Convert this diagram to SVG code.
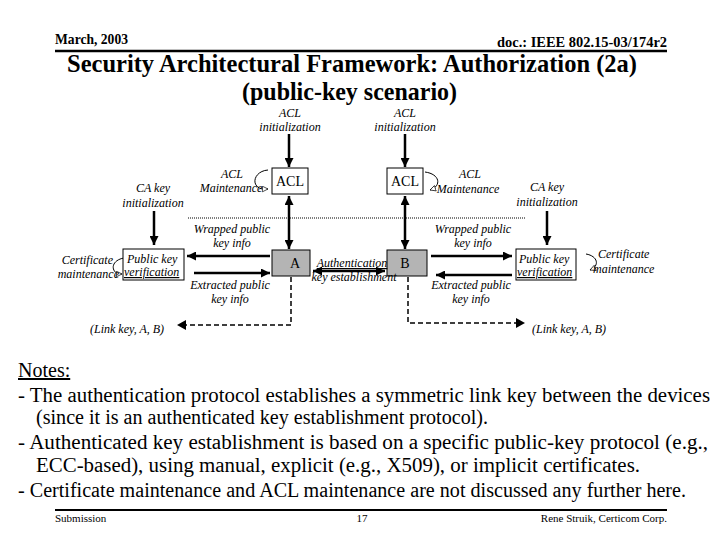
<svg xmlns="http://www.w3.org/2000/svg" width="720" height="540" viewBox="0 0 720 540">
<defs>
<marker id="ah" viewBox="0 0 10 10" refX="10" refY="5" markerWidth="9" markerHeight="9" markerUnits="userSpaceOnUse" orient="auto-start-reverse"><path d="M0,0 L10,5 L0,10 Z" fill="#000"/></marker>
<marker id="oh" viewBox="0 0 10 10" refX="9" refY="5" markerWidth="7" markerHeight="7" markerUnits="userSpaceOnUse" orient="auto"><path d="M1,1 L9,5 L1,9 Z" fill="#fff" stroke="#000" stroke-width="1"/></marker>
<style>
.hd{font-family:"Liberation Serif",serif;font-weight:bold;font-size:14px}
.tt{font-family:"Liberation Serif",serif;font-weight:bold;font-size:26px}
.lb{font-family:"Liberation Serif",serif;font-style:italic;font-size:12px}
.bx{font-family:"Liberation Serif",serif;font-size:14px}
.nt{font-family:"Liberation Serif",serif;font-size:20px}
.ft{font-family:"Liberation Serif",serif;font-size:11px}
.box{fill:#fff;stroke:#000;stroke-width:1}
.gb{fill:#b4b4b4;stroke:#000;stroke-width:1}
.ar{stroke:#000;stroke-width:2.5;fill:none}
.ds{stroke:#000;stroke-width:1.5;fill:none;stroke-dasharray:5,3}
.cv{stroke:#000;stroke-width:1;fill:none}
</style>
</defs>
<rect width="720" height="540" fill="#fff"/>
<g id="header">
<text class="hd" x="55" y="44" textLength="73" lengthAdjust="spacingAndGlyphs">March, 2003</text>
<text class="hd" x="667" y="47" text-anchor="end" textLength="170" lengthAdjust="spacingAndGlyphs">doc.: IEEE 802.15-03/174r2</text>
<line x1="55" y1="51" x2="667" y2="51" stroke="#000" stroke-width="2.5"/>
<text class="tt" x="67" y="72" textLength="570" lengthAdjust="spacingAndGlyphs">Security Architectural Framework: Authorization (2a)</text>
<text class="tt" x="242" y="100" textLength="215" lengthAdjust="spacingAndGlyphs">(public-key scenario)</text>
</g>
<g id="connectors">
<line class="ar" x1="289" y1="134" x2="289" y2="167" marker-end="url(#ah)"/>
<line class="ar" x1="405" y1="134" x2="405" y2="167" marker-end="url(#ah)"/>
<line class="ar" x1="289" y1="196" x2="289" y2="249" marker-start="url(#ah)" marker-end="url(#ah)"/>
<line class="ar" x1="405" y1="196" x2="405" y2="249" marker-start="url(#ah)" marker-end="url(#ah)"/>
<line class="ar" x1="313" y1="271" x2="385" y2="271" marker-start="url(#ah)" marker-end="url(#ah)"/>
<line class="ar" x1="154" y1="211" x2="154" y2="245" marker-end="url(#ah)"/>
<line class="ar" x1="547" y1="211" x2="547" y2="245" marker-end="url(#ah)"/>
<line class="ar" x1="270" y1="256" x2="187" y2="256" marker-end="url(#ah)"/>
<line class="ar" x1="194" y1="273" x2="270" y2="273" marker-end="url(#ah)"/>
<line class="ar" x1="431" y1="256" x2="512" y2="256" marker-end="url(#ah)"/>
<line class="ar" x1="512" y1="275" x2="436" y2="275" marker-end="url(#ah)"/>
<line x1="188" y1="218" x2="525" y2="218" stroke="#000" stroke-width="1" stroke-dasharray="1,1"/>
<polyline class="ds" points="291,277 291,325 186,325"/>
<path d="M186,320 L177,325 L186,330 Z" fill="#000"/>
<polyline class="ds" points="408,277 408,323 516,323"/>
<path d="M516,318 L525,323 L516,328 Z" fill="#000"/>
<path class="cv" d="M268,170 C254,171 250,186 262,189 L268,189" marker-end="url(#oh)"/>
<path class="cv" d="M425,172 C440,174 442,186 430,190" marker-end="url(#oh)"/>
<path class="cv" d="M124,258 C112,260 110,270 118,274 L122,274" marker-end="url(#oh)"/>
<path class="cv" d="M586,254 C598,256 600,266 590,270" marker-end="url(#oh)"/>
</g>
<g id="acl-left">
<rect class="box" x="272" y="168" width="36" height="26"/>
<text class="bx" x="290" y="186" text-anchor="middle">ACL</text>
</g>
<g id="acl-right">
<rect class="box" x="387" y="168" width="36" height="26"/>
<text class="bx" x="405" y="186" text-anchor="middle">ACL</text>
</g>
<g id="node-a">
<rect class="gb" x="272" y="250" width="38" height="26"/>
<text class="bx" x="295" y="268" text-anchor="middle" font-size="13">A</text>
</g>
<g id="node-b">
<rect class="gb" x="387" y="250" width="40" height="26"/>
<text class="bx" x="405" y="268" text-anchor="middle" font-size="13">B</text>
</g>
<g id="pkv-left">
<rect class="box" x="123" y="249" width="61" height="31"/>
<text class="lb" x="127" y="263">Public key</text>
<text class="lb" x="124" y="276" text-decoration="underline">verification</text>
</g>
<g id="pkv-right">
<rect class="box" x="516" y="249" width="60" height="31"/>
<text class="lb" x="519" y="263">Public key</text>
<text class="lb" x="517" y="276" text-decoration="underline">verification</text>
</g>
<g id="labels">
<text class="lb" x="290" y="117" text-anchor="middle">ACL</text>
<text class="lb" x="290" y="131" text-anchor="middle">initialization</text>
<text class="lb" x="405" y="117" text-anchor="middle">ACL</text>
<text class="lb" x="405" y="131" text-anchor="middle">initialization</text>
<text class="lb" x="232" y="178" text-anchor="middle">ACL</text>
<text class="lb" x="231" y="192" text-anchor="middle">Maintenance</text>
<text class="lb" x="470" y="178" text-anchor="middle">ACL</text>
<text class="lb" x="468" y="193" text-anchor="middle">Maintenance</text>
<text class="lb" x="153" y="192" text-anchor="middle">CA key</text>
<text class="lb" x="153" y="207" text-anchor="middle">initialization</text>
<text class="lb" x="547" y="191" text-anchor="middle">CA key</text>
<text class="lb" x="547" y="206" text-anchor="middle">initialization</text>
<text class="lb" x="232" y="233" text-anchor="middle">Wrapped public</text>
<text class="lb" x="232" y="247" text-anchor="middle">key info</text>
<text class="lb" x="230" y="289" text-anchor="middle">Extracted public</text>
<text class="lb" x="230" y="303" text-anchor="middle">key info</text>
<text class="lb" x="473" y="233" text-anchor="middle">Wrapped public</text>
<text class="lb" x="473" y="247" text-anchor="middle">key info</text>
<text class="lb" x="471" y="289" text-anchor="middle">Extracted public</text>
<text class="lb" x="471" y="303" text-anchor="middle">key info</text>
<text class="lb" x="352" y="267" text-anchor="middle" text-decoration="underline">Authentication</text>
<text class="lb" x="354" y="281" text-anchor="middle">key establishment</text>
<text class="lb" x="113" y="264" text-anchor="end">Certificate</text>
<text class="lb" x="119" y="278" text-anchor="end">maintenance</text>
<text class="lb" x="598" y="258">Certificate</text>
<text class="lb" x="593" y="273">maintenance</text>
<text class="lb" x="90" y="333">(Link key, A, B)</text>
<text class="lb" x="532" y="333">(Link key, A, B)</text>
</g>
<g id="notes">
<text class="nt" x="18" y="377" text-decoration="underline">Notes:</text>
<text class="nt" x="18" y="402" textLength="692" lengthAdjust="spacingAndGlyphs">- The authentication protocol establishes a symmetric link key between the devices</text>
<text class="nt" x="36" y="424" textLength="452" lengthAdjust="spacingAndGlyphs">(since it is an authenticated key establishment protocol).</text>
<text class="nt" x="18" y="449" textLength="690" lengthAdjust="spacingAndGlyphs">- Authenticated key establishment is based on a specific public-key protocol (e.g.,</text>
<text class="nt" x="36" y="472" textLength="604" lengthAdjust="spacingAndGlyphs">ECC-based), using manual, explicit (e.g., X509), or implicit certificates.</text>
<text class="nt" x="18" y="497" textLength="668" lengthAdjust="spacingAndGlyphs">- Certificate maintenance and ACL maintenance are not discussed any further here.</text>
</g>
<g id="footer">
<line x1="55" y1="510" x2="667" y2="510" stroke="#000" stroke-width="2"/>
<text class="ft" x="55" y="522">Submission</text>
<text class="ft" x="362" y="522" text-anchor="middle">17</text>
<text class="ft" x="667" y="522" text-anchor="end">Rene Struik, Certicom Corp.</text>
</g>
</svg>
